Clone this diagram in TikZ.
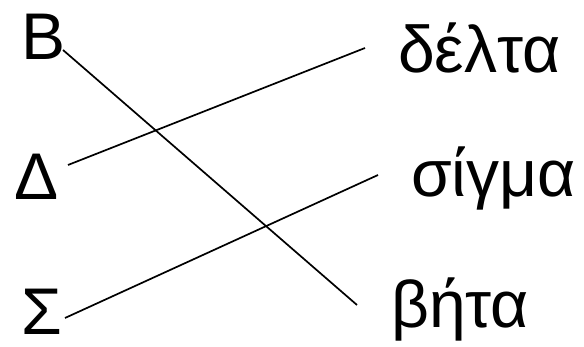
\documentclass[tikz,border=0pt]{standalone}
\usepackage{fontspec}
\setmainfont{Liberation Sans}
\begin{document}
\begin{tikzpicture}[x=1pt,y=1pt,
  lbl/.style={inner sep=0pt,anchor=base west,font=\fontsize{66}{72}\selectfont},
  link/.style={line width=1.7pt,black}]
\useasboundingbox (0,0) rectangle (584,347);
\node[lbl] (B) at (21,287) {B};
\node[lbl] (D) at (14,147) {Δ};
\node[lbl] (S) at (21,12) {Σ};
\node[lbl] (delta) at (398,274) {δέλτα};
\node[lbl] (sigma) at (411,150) {σίγμα};
\node[lbl] (beta) at (391,19) {βήτα};
\coordinate (b1) at (63,297);
\coordinate (b2) at (357,42);
\coordinate (d1) at (68,182);
\coordinate (d2) at (365,299);
\coordinate (s1) at (65,29);
\coordinate (s2) at (378,172);
\draw[link] (b1) -- (b2);
\draw[link] (d1) -- (d2);
\draw[link] (s1) -- (s2);
\end{tikzpicture}
\end{document}
